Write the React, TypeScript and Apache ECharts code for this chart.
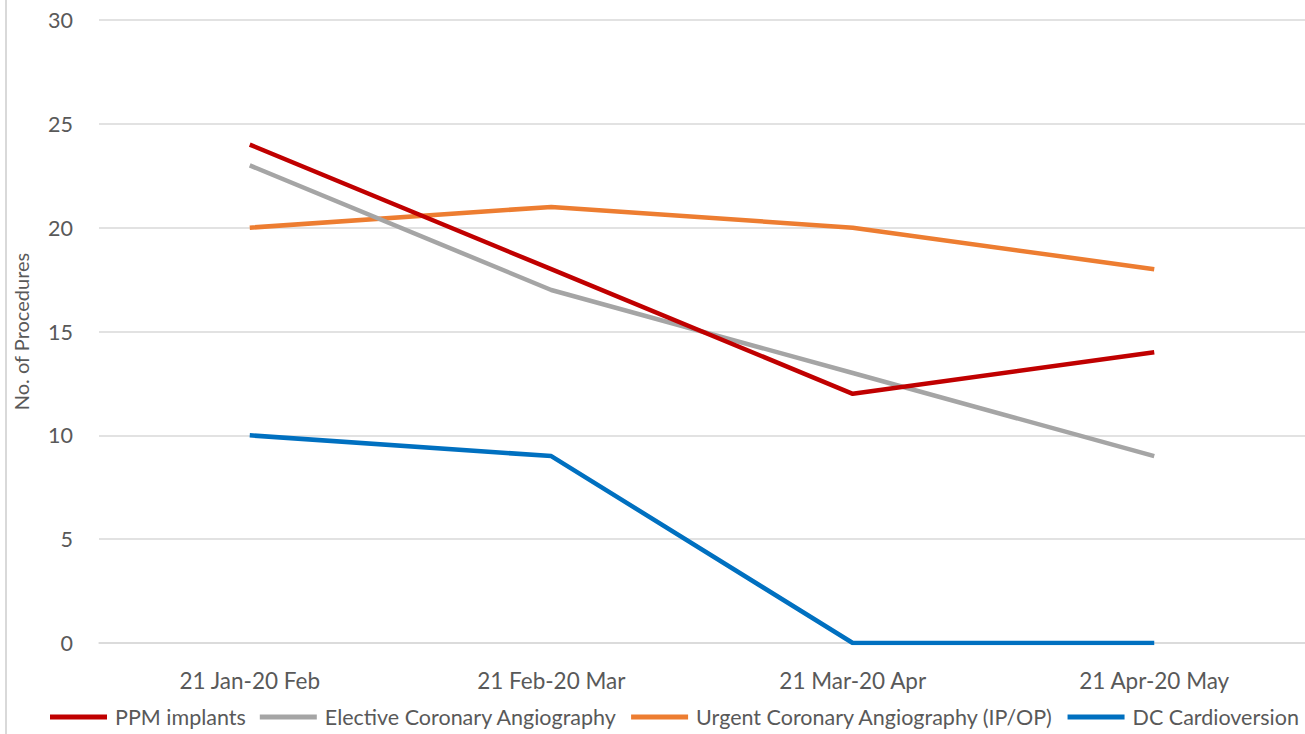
import React, { useEffect, useRef } from "react";
import * as echarts from "echarts";

const categories = ["21 Jan-20 Feb", "21 Feb-20 Mar", "21 Mar-20 Apr", "21 Apr-20 May"];
const ppmImplants = [24, 18, 12, 14];
const electiveAngio = [23, 17, 13, 9];
const urgentAngio = [20, 21, 20, 18];
const dcCardioversion = [10, 9, 0, 0];

const seriesNames = [
  "PPM implants",
  "Elective Coronary Angiography",
  "Urgent Coronary Angiography (IP/OP)",
  "DC Cardioversion",
];
const seriesColors = ["#c00000", "#a5a5a5", "#ed7d31", "#0070c0"];

export default function App() {
  const ref = useRef<HTMLDivElement>(null);
  useEffect(() => {
    if (!ref.current) return;
    const chart = echarts.init(ref.current, undefined, { renderer: "svg" });
    const dataSets = [ppmImplants, electiveAngio, urgentAngio, dcCardioversion];
    const font = "Lato, 'Open Sans', sans-serif";
    chart.setOption({
      animation: false,
      backgroundColor: "#ffffff",
      textStyle: { fontFamily: font, color: "#595959" },
      grid: { left: 99, right: 0, top: 20, bottom: 91, containLabel: false },
      graphic: [
        {
          type: "line",
          shape: { x1: 6, y1: 0, x2: 6, y2: 734 },
          style: { stroke: "#d9d9d9", lineWidth: 2 },
        },
      ],
      legend: {
        bottom: 1,
        left: 45,
        itemWidth: 57,
        itemHeight: 5,
        itemGap: 14,
        icon: "rect",
        textStyle: { fontFamily: font, fontSize: 21.5, color: "#595959", padding: [0, 0, 0, 3] },
        data: seriesNames,
      },
      xAxis: {
        type: "category",
        data: categories,
        boundaryGap: true,
        axisLine: { show: true, lineStyle: { color: "#d9d9d9", width: 1.5 } },
        axisTick: { show: false },
        axisLabel: { fontFamily: font, fontSize: 22.5, color: "#595959", margin: 26 },
      },
      yAxis: {
        type: "value",
        min: 0,
        max: 30,
        interval: 5,
        name: "No. of Procedures",
        nameLocation: "middle",
        nameGap: 68,
        nameTextStyle: { fontFamily: font, fontSize: 20, color: "#595959" },
        axisLine: { show: false },
        axisTick: { show: false },
        axisLabel: { fontFamily: font, fontSize: 21.5, color: "#595959", margin: 26 },
        splitLine: { lineStyle: { color: "#d9d9d9", width: 1.5 } },
      },
      series: dataSets.map((d, i) => ({
        name: seriesNames[i],
        type: "line",
        data: d,
        symbol: "none",
        color: seriesColors[i],
        lineStyle: { width: 4.5, color: seriesColors[i] },
        z: 2 + (3 - i),
      })),
    });
    return () => chart.dispose();
  }, []);
  return (
    <div
      ref={ref}
      style={{ position: "fixed", left: 0, top: 0, width: 1305, height: 734 }}
    />
  );
}
